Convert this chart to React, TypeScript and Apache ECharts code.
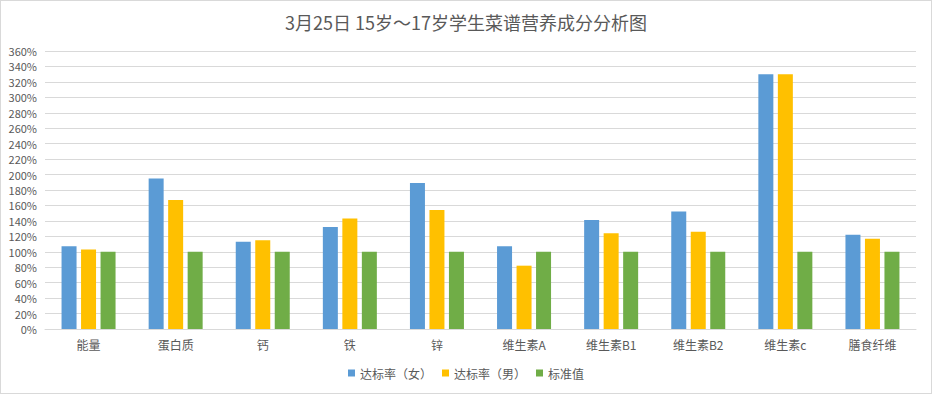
import React, { useEffect, useRef } from "react";
import * as echarts from "echarts";

const categories = ["能量", "蛋白质", "钙", "铁", "锌", "维生素A", "维生素B1", "维生素B2", "维生素c", "膳食纤维"];
const female = [107, 195, 113, 132, 189, 107, 141, 152, 330, 122];
const male = [103, 167, 115, 143, 154, 82, 124, 126, 330, 117];
const standard = [100, 100, 100, 100, 100, 100, 100, 100, 100, 100];
const seriesNames = ["达标率（女）", "达标率（男）", "标准值"];
const titleText = "3月25日 15岁～17岁学生菜谱营养成分分析图";

const FONT = "'Noto Sans CJK SC', 'Microsoft YaHei', sans-serif";

export default function App() {
  const ref = useRef<HTMLDivElement>(null);
  useEffect(() => {
    document.body.style.margin = "0";
    const chart = echarts.init(ref.current!, null, { renderer: "svg" });
    chart.setOption({
      animation: false,
      title: {
        text: titleText,
        left: "center",
        top: 7,
        textStyle: { fontFamily: FONT, fontSize: 18, fontWeight: "normal", color: "#595959" },
      },
      legend: {
        bottom: 9,
        left: "center",
        icon: "rect",
        itemWidth: 7,
        itemHeight: 7,
        itemGap: 10,
        textStyle: { fontFamily: FONT, fontSize: 12, color: "#595959", padding: [0, 0, 0, 0] },
        data: seriesNames,
      },
      grid: { left: 44, right: 15, top: 50, bottom: 64, containLabel: false },
      xAxis: {
        type: "category",
        data: categories,
        axisLine: { lineStyle: { color: "#d9d9d9" } },
        axisTick: { show: false },
        axisLabel: { fontFamily: FONT, fontSize: 12, color: "#595959", margin: 9 },
      },
      yAxis: {
        type: "value",
        min: 0,
        max: 360,
        interval: 20,
        axisLine: { show: false },
        axisTick: { show: false },
        splitLine: { lineStyle: { color: "#d9d9d9" } },
        axisLabel: { formatter: "{value}%", fontFamily: FONT, fontSize: 11, color: "#595959", margin: 8 },
      },
      series: [
        { name: seriesNames[0], type: "bar", data: female, barWidth: 15, barGap: "30%", itemStyle: { color: "#5b9bd5" } },
        { name: seriesNames[1], type: "bar", data: male, barWidth: 15, barGap: "30%", itemStyle: { color: "#ffc000" } },
        { name: seriesNames[2], type: "bar", data: standard, barWidth: 15, barGap: "30%", itemStyle: { color: "#70ad47" } },
      ],
    });
    return () => chart.dispose();
  }, []);
  return (
    <div
      style={{
        position: "absolute",
        left: 0,
        top: 0,
        width: 932,
        height: 394,
        boxSizing: "border-box",
        border: "1px solid #d9d9d9",
        background: "#fff",
      }}
    >
      <div ref={ref} style={{ width: 930, height: 392 }} />
    </div>
  );
}
